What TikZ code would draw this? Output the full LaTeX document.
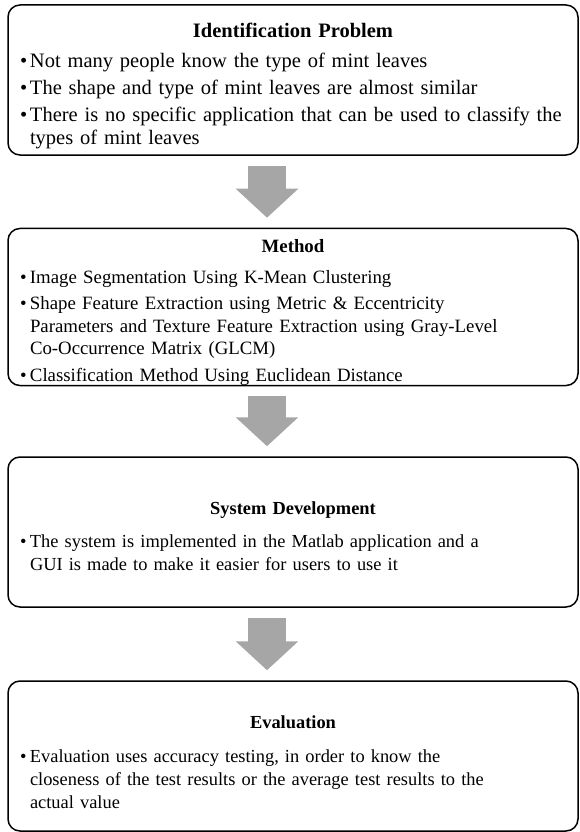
\documentclass[tikz,border=0pt]{standalone}
\usepackage{fontspec}
\setmainfont{Liberation Serif}
\usetikzlibrary{arrows.meta,calc}

\definecolor{arrowgray}{HTML}{A6A6A6}

% #1 height of the title line, #2 space below the title
\newcommand{\stagetitle}[3]{{\centering\rule{0pt}{#1}\bfseries #3\par}\vspace{#2}}
\newcommand{\bitem}[1]{\par\vspace{4pt}\hangindent=10pt\hangafter=1\noindent\makebox[10pt][l]{\textbullet}#1\par}

\begin{document}
\begin{tikzpicture}
          [x=1pt,y=-1pt,
           stagebox/.style={draw,line width=1.5pt,rounded corners=12pt,
             minimum width=570pt,minimum height=150pt,text width=546pt,
             inner xsep=12pt,inner ysep=0pt,align=left,
             font=\fontsize{18.8}{23}\selectfont},
           fatarrow/.style={draw=arrowgray,line width=38pt,
             -{Triangle[width=61pt,length=29pt]}}]
          \useasboundingbox (0,0) rectangle (580,832);

          \node[stagebox,font=\fontsize{20.5}{23}\selectfont] (b1) at (293,80) {\stagetitle{26.5pt}{3pt}{Identification Problem}
            \bitem{Not many people know the type of mint leaves}
            \bitem{The shape and type of mint leaves are almost similar}
            \bitem{There is no specific application that can be used to classify the\newline types of mint leaves}};
          \node[stagebox,font=\fontsize{18.8}{22.5}\selectfont] (b2) at (293,307) {\stagetitle{24.5pt}{4pt}{Method}
            \bitem{Image Segmentation Using K-Mean Clustering}
            \bitem{Shape Feature Extraction using Metric \& Eccentricity\newline Parameters and Texture Feature Extraction using Gray-Level\newline Co-Occurrence Matrix (GLCM)}
            \bitem{Classification Method Using Euclidean Distance}};
          \node[stagebox,font=\fontsize{18.4}{23}\selectfont] (b3) at (293,532) {\stagetitle{20.5pt}{6pt}{System Development}
            \bitem{The system is implemented in the Matlab application and a\newline GUI is made to make it easier for users to use it}};
          \node[stagebox,font=\fontsize{18.4}{23}\selectfont] (b4) at (293,756) {\stagetitle{24.5pt}{7pt}{Evaluation}
            \bitem{Evaluation uses accuracy testing, in order to know the\newline closeness of the test results or the average test results to the\newline actual value}};

          \foreach \from/\to in {b1/b2,b2/b3,b3/b4}
            \draw[fatarrow] ($(\from.south)+(-26,10)$) -- ($(\to.north)+(-26,-10)$);

        \end{tikzpicture}
\end{document}
